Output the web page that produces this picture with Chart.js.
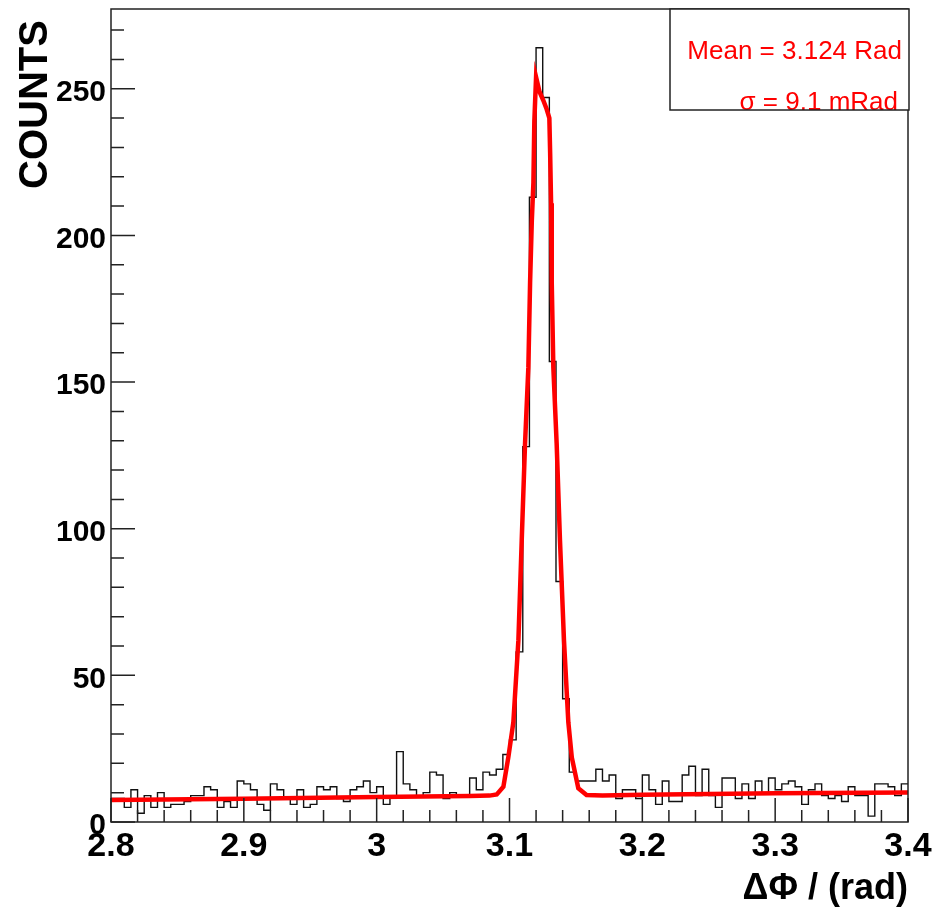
<!DOCTYPE html>
<html>
<head>
<meta charset="utf-8">
<script src="https://cdn.jsdelivr.net/npm/chart.js@4.4.1/dist/chart.umd.min.js"></script>
<style>
  html, body { margin: 0; padding: 0; background: #fff; }
  canvas { display: block; }
</style>
</head>
<body>
<canvas id="grafico" width="948" height="917"></canvas>
<script>
// histogram: 120 bins of 0.005 rad from 2.8 to 3.4
const binInicio = 2.8;
const binLargura = 0.005;
const contagens = [
  8, 8, 5, 11, 3, 9, 5, 10, 5, 6,
  6, 7, 9, 9, 12, 11, 5, 7, 5, 14,
  13, 11, 6, 4, 13, 11, 8, 6, 11, 5,
  6, 12, 11, 12, 8, 7, 11, 12, 14, 10,
  12, 6, 9, 24, 13, 11, 9, 10, 17, 16,
  8, 10, 9, 9, 15, 11, 17, 16, 18, 23,
  28, 58, 128, 213, 264, 247, 157, 82, 42, 17,
  14, 14, 14, 18, 14, 16, 8, 11, 11, 8,
  16, 11, 6, 14, 7, 7, 16, 19, 9, 18,
  9, 5, 15, 15, 8, 13, 8, 14, 10, 15,
  11, 13, 14, 12, 6, 11, 13, 9, 8, 9,
  7, 12, 9, 9, 2, 13, 13, 12, 9, 13
];

// fit curve
const ajusteX = [2.8, 2.9, 3.0, 3.07, 3.085, 3.0904, 3.0954, 3.0991, 3.1029, 3.1067,
  3.1092, 3.1117, 3.1142, 3.1155, 3.1168, 3.118, 3.1187, 3.12, 3.1226, 3.1255,
  3.128, 3.13, 3.1306, 3.1313, 3.1318, 3.133, 3.1355, 3.138, 3.141, 3.1443,
  3.1469, 3.1518, 3.158, 3.17, 3.2, 3.3, 3.4];
const ajusteY = [7.5, 7.9, 8.5, 8.9, 9.0, 9.4, 12, 22, 34, 62,
  96, 129, 155, 184, 205, 218, 239, 254, 249, 246,
  243, 240, 228, 211, 184, 155, 129, 96, 62, 34,
  22, 11.5, 9.2, 9.0, 9.3, 9.8, 10.1];

const xTicks = [2.8, 2.9, 3.0, 3.1, 3.2, 3.3, 3.4];
const xRotulos = ["2.8", "2.9", "3", "3.1", "3.2", "3.3", "3.4"];
const yTicks = [0, 50, 100, 150, 200, 250];
const yRotulos = ["0", "50", "100", "150", "200", "250"];
const yMaximo = 277.2;

const tituloX = "ΔΦ / (rad)";
const tituloY = "COUNTS ";
const caixaTextos = ["Mean = 3.124 Rad", "σ = 9.1 mRad"];

const FONTE = "'Liberation Sans', Arial, Helvetica, sans-serif";

const pontosHist = contagens.map((c, i) => ({ x: binInicio + i * binLargura, y: c }));
pontosHist.push({ x: binInicio + contagens.length * binLargura, y: contagens[contagens.length - 1] });
const pontosAjuste = ajusteX.map((x, i) => ({ x: x, y: ajusteY[i] }));

// frame + inward ticks, ROOT style
const molduraPlugin = {
  id: "moldura",
  afterDatasetsDraw(chart) {
    const { ctx, chartArea: a, scales } = chart;
    const sx = scales.x, sy = scales.y;
    ctx.save();
    ctx.strokeStyle = "#222";
    ctx.lineWidth = 1.5;
    ctx.beginPath();
    // x ticks
    for (let i = 0; i < xTicks.length; i++) {
      const px = sx.getPixelForValue(xTicks[i]);
      ctx.moveTo(px, a.bottom);
      ctx.lineTo(px, a.bottom - 24);
      if (i < xTicks.length - 1) {
        const passo = (xTicks[i + 1] - xTicks[i]) / 5;
        for (let k = 1; k < 5; k++) {
          const pm = sx.getPixelForValue(xTicks[i] + k * passo);
          ctx.moveTo(pm, a.bottom);
          ctx.lineTo(pm, a.bottom - 12);
        }
      }
    }
    // y ticks
    const passoY = (yTicks[1] - yTicks[0]) / 5;
    for (let v = yTicks[0]; v <= yMaximo; v += passoY) {
      const py = sy.getPixelForValue(v);
      const maior = Math.abs(v / (yTicks[1] - yTicks[0]) - Math.round(v / (yTicks[1] - yTicks[0]))) < 1e-6;
      ctx.moveTo(a.left, py);
      ctx.lineTo(a.left + (maior ? 24 : 13), py);
    }
    ctx.stroke();
    ctx.strokeRect(a.left, a.top, a.right - a.left, a.bottom - a.top);
    ctx.restore();
  }
};

// stat box top right
const caixaPlugin = {
  id: "caixa",
  afterDraw(chart) {
    const { ctx, chartArea: a } = chart;
    const x0 = 670, y0 = a.top, x1 = a.right + 1, y1 = 110;
    ctx.save();
    ctx.fillStyle = "#fff";
    ctx.fillRect(x0, y0, x1 - x0, y1 - y0);
    ctx.fillStyle = "#ff0000";
    ctx.font = "26px " + FONTE;
    ctx.textAlign = "right";
    ctx.textBaseline = "alphabetic";
    ctx.fillText(caixaTextos[0], 902, 59);
    ctx.fillText(caixaTextos[1], 898, 110);
    ctx.strokeStyle = "#222";
    ctx.lineWidth = 1.5;
    ctx.strokeRect(x0, y0, x1 - x0, y1 - y0);
    ctx.restore();
  }
};

new Chart(document.getElementById("grafico"), {
  type: "line",
  data: {
    datasets: [
      {
        label: "ajuste",
        data: pontosAjuste,
        borderColor: "#ff0000",
        borderWidth: 4.5,
        pointRadius: 0,
        tension: 0,
        fill: false,
        order: 0
      },
      {
        label: "hist",
        data: pontosHist,
        borderColor: "#111",
        borderWidth: 1.4,
        pointRadius: 0,
        stepped: "before",
        fill: false,
        order: 1
      }
    ]
  },
  options: {
    responsive: false,
    animation: false,
    devicePixelRatio: 1,
    layout: { padding: { left: 0, right: 40, top: 9, bottom: 0 } },
    plugins: {
      legend: { display: false },
      tooltip: { enabled: false }
    },
    scales: {
      x: {
        type: "linear",
        min: 2.8,
        max: 3.4,
        afterBuildTicks: (s) => { s.ticks = xTicks.map(v => ({ value: v })); },
        afterFit: (s) => { s.height = 95; s.paddingLeft = 0; s.paddingRight = 0; },
        grid: { display: false, drawTicks: false },
        border: { display: false },
        ticks: {
          autoSkip: false,
          maxRotation: 0,
          padding: 4,
          color: "#000",
          font: { family: FONTE, size: 34, weight: "bold" },
          callback: (v, i) => xRotulos[i]
        },
        title: {
          display: true,
          text: tituloX,
          align: "end",
          color: "#000",
          font: { family: FONTE, size: 36, weight: "bold" },
          padding: { top: 0, bottom: 6 }
        }
      },
      y: {
        type: "linear",
        min: 0,
        max: yMaximo,
        afterBuildTicks: (s) => { s.ticks = yTicks.map(v => ({ value: v })); },
        afterFit: (s) => { s.width = 111; s.paddingTop = 0; s.paddingBottom = 0; },
        grid: { display: false, drawTicks: false },
        border: { display: false },
        ticks: {
          autoSkip: false,
          padding: 5,
          labelOffset: 4,
          color: "#000",
          font: { family: FONTE, size: 30, weight: "bold" },
          callback: (v, i) => yRotulos[i]
        },
        title: {
          display: true,
          text: tituloY,
          align: "end",
          color: "#000",
          font: { family: FONTE, size: 40, weight: "bold" },
          padding: { top: 12, bottom: 0 }
        }
      }
    }
  },
  plugins: [molduraPlugin, caixaPlugin]
});
</script>
</body>
</html>
